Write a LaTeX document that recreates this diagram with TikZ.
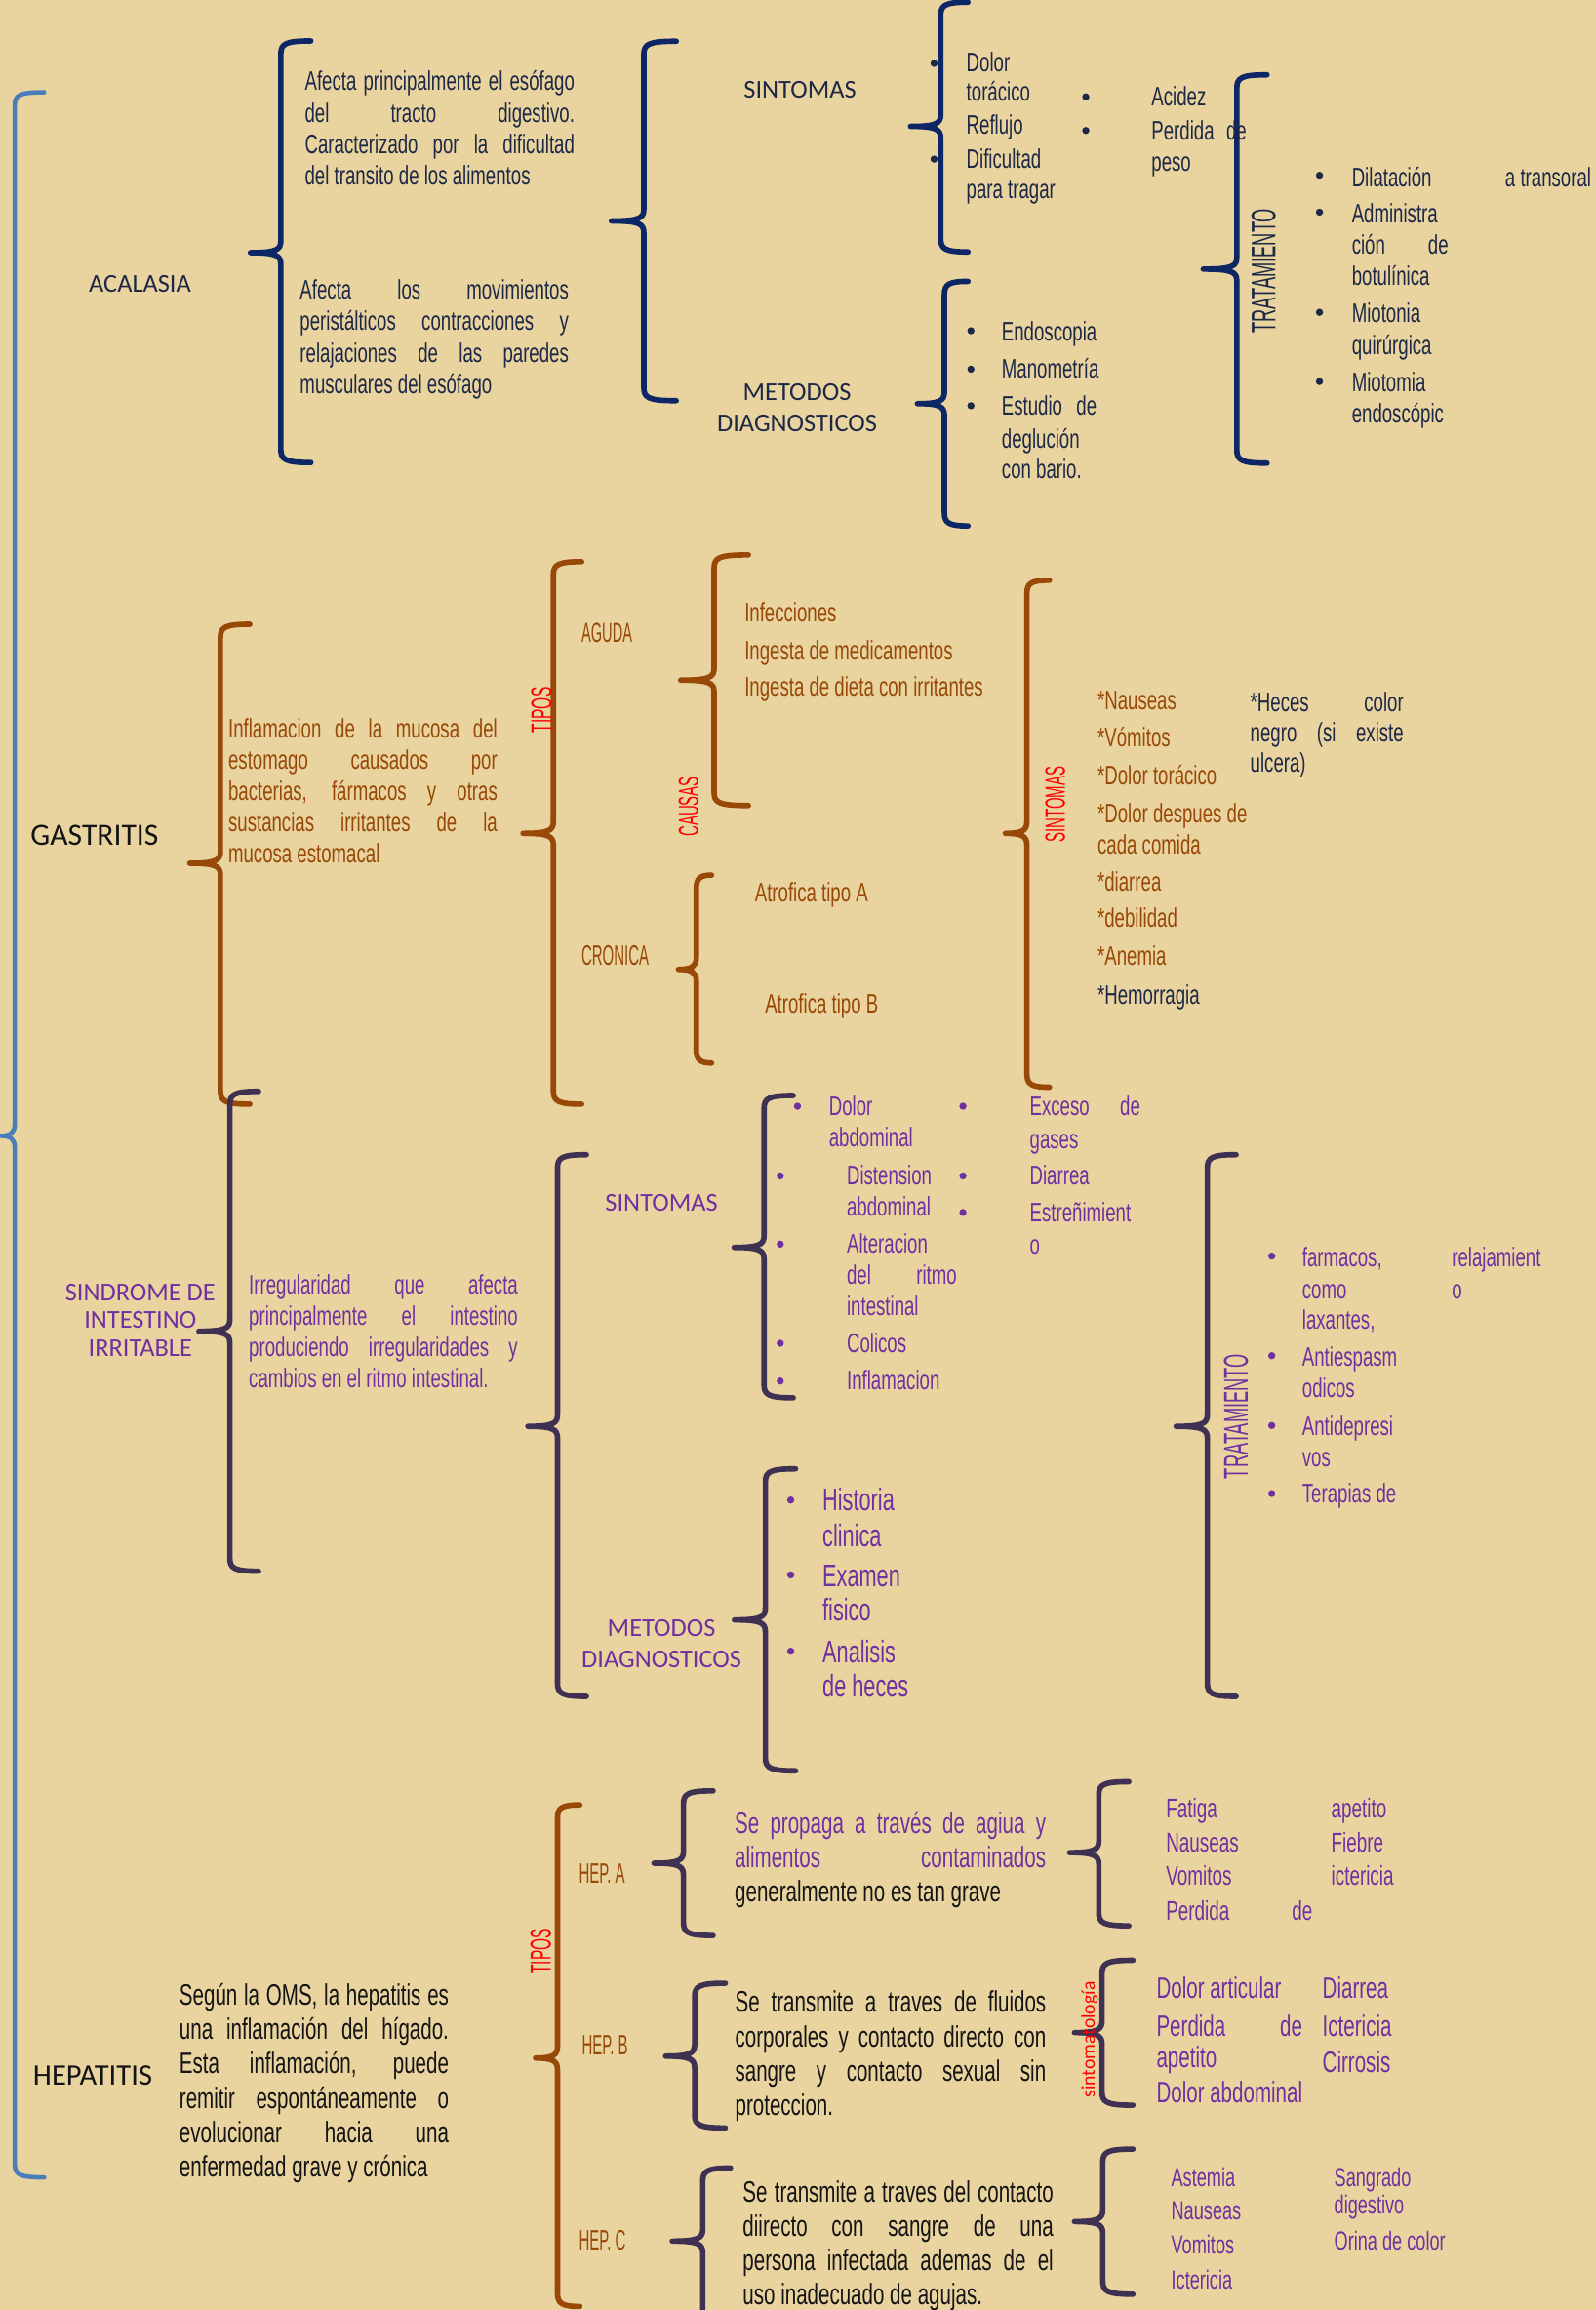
\documentclass[tikz,border=0pt]{standalone}
\usepackage{fontspec}
\setmainfont{Liberation Sans}
\newfontfamily\agf[FakeStretch=0.68]{Liberation Sans}
\newfontfamily\agcaps[FakeStretch=0.52]{Liberation Sans}
\newfontfamily\calib{Carlito}
\newdimen\unitm \unitm=0.15106mm
\newcommand\jl[1]{\hbox to\hsize{#1}}
\newcommand\lastl[1]{\hbox{#1}}
\newcommand\cl[1]{\hbox to\hsize{\hfil#1\hfil}}
\newcommand\tblock[2]{\vtop{\hsize=#1\unitm #2}}
\newcommand\jw[2]{\hbox to #1\unitm{#2}}
\definecolor{bg}{HTML}{E9D39F}
\definecolor{navyb}{HTML}{0D2665}
\definecolor{navyt}{HTML}{1C2846}
\definecolor{brn}{HTML}{984807}
\definecolor{red1}{HTML}{FF0000}
\definecolor{pur}{HTML}{7030A0}
\definecolor{dpur}{HTML}{3F3151}
\definecolor{blu}{HTML}{4A7EBB}
\definecolor{blk}{HTML}{141414}
\newcommand\bracepath[7]{\draw[brcs,#1] (#7,#3) .. controls (#2+3,#3) and (#2,#3+2) .. (#2,#3+9) -- (#2,#6-8) .. controls (#2,#6-2) and (#2-3,#6) .. (#5,#6) .. controls (#2-3,#6) and (#2,#6+2) .. (#2,#6+8) -- (#2,#4-9) .. controls (#2,#4-2) and (#2+3,#4) .. (#7,#4);}
\begin{document}
\begin{tikzpicture}[x=0.15106mm, y=-0.15106mm,
  every node/.style={inner sep=0pt, outer sep=0pt},
  tx/.style={anchor=base west, font=\agf\fontsize{7.8}{9.2}\selectfont},
  bt/.style={anchor=base west, font=\agf\fontsize{8.6}{10}\selectfont},
  ht/.style={anchor=base west, font=\agf\fontsize{9.1}{10.2}\selectfont},
  cp/.style={anchor=base west, font=\agcaps\fontsize{8.2}{9}\selectfont},
  lb/.style={anchor=base, font=\calib\fontsize{7.5}{9}\selectfont},
  vc/.style={rotate=90, anchor=center},
  brcs/.style={line width=1.6pt, line cap=round, line join=round},
  dot/.style={radius=1.05pt}]
\useasboundingbox (0,0) rectangle (1083,1568);
\fill[bg] (0,0) rectangle (1083,1568);

% ---------- braces ----------
\bracepath{blu,line width=1.3pt}{10}{62.6}{1478}{0}{771}{30}
\bracepath{navyb}{190.6}{27.8}{314}{170}{171.5}{211}
\bracepath{navyb}{437}{28}{272}{415}{150}{459}
\bracepath{navyb}{638.5}{1.5}{171}{618}{85.8}{657}
\bracepath{navyb}{641}{191}{357}{622.7}{274}{657}
\bracepath{navyb}{839.5}{50.8}{314.4}{816.7}{182.7}{860}
\bracepath{brn}{149.6}{423.8}{749.5}{128.8}{586}{169.6}
\bracepath{brn}{375.6}{381.3}{749.5}{355}{565.7}{394.8}
\bracepath{brn}{484.7}{376.7}{546.8}{462}{461.7}{508}
\bracepath{brn}{472.6}{594}{721.6}{460.5}{658}{483}
\bracepath{brn}{697}{393.9}{738}{682.4}{565.7}{712.3}
\bracepath{dpur}{156}{740.8}{1066.5}{135}{903.6}{175.5}
\bracepath{dpur}{378.4}{783.8}{1151.5}{358.3}{968.2}{398}
\bracepath{dpur}{518.6}{743.6}{948.8}{498.3}{846.7}{538.4}
\bracepath{dpur}{519.5}{997}{1202}{498.5}{1099.6}{540}
\bracepath{dpur}{819.5}{783.8}{1151.5}{798.3}{968.2}{839}
\bracepath{brn}{378.4}{1225.1}{1565.6}{363.5}{1397}{393.6}
\bracepath{dpur}{463.9}{1215.6}{1313.8}{443.9}{1264.7}{484}
\bracepath{dpur}{471.5}{1346.2}{1444.4}{451.8}{1395.7}{492.3}
\bracepath{dpur}{477}{1471.6}{1580}{456.3}{1521.2}{495.8}
\bracepath{dpur}{745.8}{1209.4}{1307.2}{726}{1257.5}{766.2}
\bracepath{dpur}{748}{1330.6}{1429}{729.3}{1379.7}{769}
\bracepath{dpur}{748.5}{1458.8}{1557.3}{729.3}{1508}{769}

% ---------- ACALASIA ----------
\node[lb, text=navyt] (acal) at (95,198) {ACALASIA};
\node[tx, text=navyt] (acd1) at (207,61.5) {\tblock{183}{\jl{Afecta principalmente el esófago}\jl{del tracto digestivo.}\jl{Caracterizado por la dificultad}\lastl{del transito de los alimentos}}};
\node[tx, text=navyt] (acd2) at (203.6,203) {\tblock{182.4}{\jl{Afecta los movimientos}\jl{peristálticos contracciones y}\jl{relajaciones de las paredes}\lastl{musculares del esófago}}};
\node[lb, text=navyt] (acsin) at (543,66.3) {SINTOMAS};
\node[lb, text=navyt] (acmet) at (541,272) {\tblock{130}{\cl{METODOS}\cl{DIAGNOSTICOS}}};
\fill[navyt] (634,43) circle[dot]; \fill[navyt] (634,108) circle[dot];
\node[tx, text=navyt] (as1) at (656,49) {Dolor};
\node[tx, text=navyt] (as2) at (656,68.6) {torácico};
\node[tx, text=navyt] (as3) at (656,91) {Reflujo};
\node[tx, text=navyt] (as4) at (656,114) {Dificultad};
\node[tx, text=navyt] (as5) at (656,135) {para tragar};
\fill[navyt] (737,65.7) circle[dot]; \fill[navyt] (737,88.6) circle[dot];
\node[tx, text=navyt] (as6) at (781.6,72) {Acidez};
\node[tx, text=navyt] (as7) at (781.6,95) {\jw{64.5}{Perdida de}};
\node[tx, text=navyt] (as8) at (781.6,116) {peso};
\node[vc, font=\agcaps\fontsize{10}{10}\selectfont, text=navyt] (actr) at (857.7,184) {TRATAMIENTO};
\foreach \yy in {119,144,212,259} {\fill[navyt] (895.6,\yy) circle[dot];}
\node[tx, text=navyt] (at1) at (917.6,126.5) {Dilatación};
\node[tx, text=navyt, anchor=base east] (at1b) at (1080,126.5) {a transoral};
\node[tx, text=navyt] (at2) at (917.6,151) {Administra};
\node[tx, text=navyt] (at3) at (917.6,172.6) {\jw{65.5}{ción de}};
\node[tx, text=navyt] (at4) at (917.6,194) {botulínica};
\node[tx, text=navyt] (at5) at (917.6,218.7) {Miotonia};
\node[tx, text=navyt] (at6) at (917.6,241) {quirúrgica};
\node[tx, text=navyt] (at7) at (917.6,266) {Miotomia};
\node[tx, text=navyt] (at8) at (917.6,287.3) {endoscópic};
\foreach \yy in {224.5,250.6,275.4} {\fill[navyt] (659,\yy) circle[dot];}
\node[tx, text=navyt] (am1) at (680,231.6) {Endoscopia};
\node[tx, text=navyt] (am2) at (680,256.6) {Manometría};
\node[tx, text=navyt] (am3) at (680,282) {\jw{64.4}{Estudio de}};
\node[tx, text=navyt] (am4) at (680,304) {deglución};
\node[tx, text=navyt] (am5) at (680,325) {con bario.};

% ---------- GASTRITIS ----------
\node[anchor=base west, font=\calib\fontsize{9}{10}\selectfont, text=blk] (gas) at (20.8,574) {GASTRITIS};
\node[tx, text=brn, font=\agf\fontsize{7.8}{9.1}\selectfont] (gd) at (155,501) {\tblock{182.6}{\jl{Inflamacion de la mucosa del}\jl{estomago causados por}\jl{bacterias, fármacos y otras}\jl{sustancias irritantes de la}\lastl{mucosa estomacal}}};
\node[vc, font=\agcaps\fontsize{8.5}{9}\selectfont, text=red1] (gtip) at (367.5,482) {TIPOS};
\node[cp, text=brn, font=\agcaps\fontsize{8}{9}\selectfont] (gag) at (394.7,436) {AGUDA};
\node[cp, text=brn, font=\agcaps\fontsize{8.2}{9}\selectfont] (gcr) at (394.7,655) {CRONICA};
\node[vc, font=\agcaps\fontsize{8.2}{9}\selectfont, text=red1] (gcau) at (467.4,547.5) {CAUSAS};
\node[tx, text=brn] (gc1) at (505.4,422) {Infecciones};
\node[tx, text=brn] (gc2) at (505.4,448) {Ingesta de medicamentos};
\node[tx, text=brn] (gc3) at (505.4,472.5) {Ingesta de dieta con irritantes};
\node[tx, text=brn] (ga1) at (512.4,612) {Atrofica tipo A};
\node[tx, text=brn] (ga2) at (519.3,687.5) {Atrofica tipo B};
\node[vc, font=\agcaps\fontsize{8.2}{9}\selectfont, text=red1] (gsin) at (716.3,546) {SINTOMAS};
\node[tx, text=brn] (gs1) at (745,482) {*Nauseas};
\node[tx, text=brn] (gs2) at (745,506.7) {*Vómitos};
\node[tx, text=brn] (gs3) at (745,532.7) {*Dolor torácico};
\node[tx, text=brn] (gs4) at (745,558.6) {*Dolor despues de};
\node[tx, text=brn] (gs5) at (745,579.4) {cada comida};
\node[tx, text=brn] (gs6) at (745,604.8) {*diarrea};
\node[tx, text=brn] (gs7) at (745,629.6) {*debilidad};
\node[tx, text=brn] (gs8) at (745,655.5) {*Anemia};
\node[tx, text=navyt] (gs9) at (745,681.5) {*Hemorragia};
\node[tx, text=navyt, font=\agf\fontsize{7.8}{8.9}\selectfont] (gs10) at (848.7,483) {\tblock{104}{\jl{*Heces color}\jl{negro (si existe}\lastl{ulcera)}}};

% ---------- SINDROME DE INTESTINO IRRITABLE ----------
\node[lb, text=pur, font=\calib\fontsize{7.5}{8.06}\selectfont] (ibs) at (95.2,883) {\tblock{130}{\cl{SINDROME DE}\cl{INTESTINO}\cl{IRRITABLE}}};
\node[tx, text=pur, font=\agf\fontsize{7.8}{9.1}\selectfont] (ibd) at (169,878.5) {\tblock{182.5}{\jl{Irregularidad que afecta}\jl{principalmente el intestino}\jl{produciendo irregularidades y}\lastl{cambios en el ritmo intestinal.}}};
\node[lb, text=pur] (ibsin) at (449,822) {SINTOMAS};
\node[lb, text=pur] (ibmet) at (449,1111) {\tblock{130}{\cl{METODOS}\cl{DIAGNOSTICOS}}};
\fill[pur] (541.3,750.9) circle[dot];
\foreach \yy in {798.2,844.5,911.8,937.4} {\fill[pur] (529.6,\yy) circle[dot];}
\node[tx, text=pur] (is1) at (562.7,757.4) {Dolor};
\node[tx, text=pur] (is2) at (562.7,778.3) {abdominal};
\node[tx, text=pur] (is3) at (574.8,804.4) {Distension};
\node[tx, text=pur] (is4) at (574.8,825.1) {abdominal};
\node[tx, text=pur] (is5) at (574.8,850.5) {Alteracion};
\node[tx, text=pur] (is6) at (574.8,872) {\jw{74.6}{del ritmo}};
\node[tx, text=pur] (is7) at (574.8,892.6) {intestinal};
\node[tx, text=pur] (is8) at (574.8,917.8) {Colicos};
\node[tx, text=pur] (is9) at (574.8,943.4) {Inflamacion};
\foreach \yy in {750.9,798.2,823} {\fill[pur] (653.6,\yy) circle[dot];}
\node[tx, text=pur] (is10) at (699,757.4) {\jw{75}{Exceso de}};
\node[tx, text=pur] (is11) at (699,779.4) {gases};
\node[tx, text=pur] (is12) at (699,804.4) {Diarrea};
\node[tx, text=pur] (is13) at (699,829.5) {Estreñimient};
\node[tx, text=pur] (is14) at (699,851.2) {o};
\foreach \yy in {1018.2,1069,1120.8} {\fill[pur] (536.7,\yy) circle[dot];}
\node[ht, text=pur] (im1) at (558.3,1025.5) {Historia};
\node[ht, text=pur] (im2) at (558.3,1049.7) {clinica};
\node[ht, text=pur] (im3) at (558.3,1077) {Examen};
\node[ht, text=pur] (im4) at (558.3,1100) {fisico};
\node[ht, text=pur] (im5) at (558.3,1128.7) {Analisis};
\node[ht, text=pur] (im6) at (558.3,1151.6) {de heces};
\node[vc, font=\agcaps\fontsize{10}{10}\selectfont, text=pur] (ibtr) at (839,961.5) {TRATAMIENTO};
\foreach \yy in {852.6,920.2,967.6,1013.8} {\fill[pur] (863.2,\yy) circle[dot];}
\node[tx, text=pur] (it1) at (883.9,859.7) {farmacos,};
\node[tx, text=pur] (it2) at (883.9,881.5) {como};
\node[tx, text=pur] (it3) at (883.9,902.2) {laxantes,};
\node[tx, text=pur] (it4) at (985.5,859.7) {relajamient};
\node[tx, text=pur] (it5) at (985.5,881.5) {o};
\node[tx, text=pur] (it6) at (883.9,927.2) {Antiespasm};
\node[tx, text=pur] (it7) at (883.9,948.4) {odicos};
\node[tx, text=pur] (it8) at (883.9,974.2) {Antidepresi};
\node[tx, text=pur] (it9) at (883.9,995.5) {vos};
\node[tx, text=pur] (it10) at (883.9,1019.8) {Terapias de};

% ---------- HEPATITIS ----------
\node[anchor=base west, font=\calib\fontsize{8.7}{10}\selectfont, text=blk] (hep) at (22.5,1415.5) {HEPATITIS};
\node[bt, text=blk, font=\agf\fontsize{8.6}{10.03}\selectfont] (hd) at (121.8,1361) {\tblock{182.8}{\jl{Según la OMS, la hepatitis es}\jl{una inflamación del hígado.}\jl{Esta inflamación, puede}\jl{remitir espontáneamente o}\jl{evolucionar hacia una}\lastl{enfermedad grave y crónica}}};
\node[vc, font=\agcaps\fontsize{8.5}{9}\selectfont, text=red1] (htip) at (367,1324.6) {TIPOS};
\node[cp, text=brn] (hA) at (393,1278) {HEP. A};
\node[cp, text=brn] (hB) at (395,1394.5) {HEP. B};
\node[cp, text=brn] (hC) at (393,1527.5) {HEP. C};
\node[bt, text=blk, font=\agf\fontsize{8.6}{10}\selectfont] (hAt) at (498.7,1244.6) {\tblock{211.2}{\jl{\color{pur}Se propaga a través de agiua y}\jl{\color{pur}alimentos contaminados}\lastl{generalmente no es tan grave}}};
\node[bt, text=blk, font=\agf\fontsize{8.6}{10}\selectfont] (hBt) at (499,1366) {\tblock{211}{\jl{Se transmite a traves de fluidos}\jl{corporales y contacto directo con}\jl{sangre y contacto sexual sin}\lastl{proteccion.}}};
\node[bt, text=blk, font=\agf\fontsize{8.6}{10}\selectfont] (hCt) at (504.2,1494.5) {\tblock{210.8}{\jl{Se transmite a traves del contacto}\jl{diirecto con sangre de una}\jl{persona infectada ademas de el}\lastl{uso inadecuado de agujas.}}};
\node[anchor=base west, font=\agf\fontsize{7.9}{9}\selectfont, text=pur] (ha1) at (791.5,1234) {Fatiga};
\node[anchor=base west, font=\agf\fontsize{7.9}{9}\selectfont, text=pur] (ha2) at (791.5,1256.8) {Nauseas};
\node[anchor=base west, font=\agf\fontsize{7.9}{9}\selectfont, text=pur] (ha3) at (791.5,1279.5) {Vomitos};
\node[anchor=base west, font=\agf\fontsize{7.9}{9}\selectfont, text=pur] (ha4) at (791.5,1303.5) {\jw{99.3}{Perdida de}};
\node[anchor=base west, font=\agf\fontsize{7.9}{9}\selectfont, text=pur] (ha5) at (903.6,1234) {apetito};
\node[anchor=base west, font=\agf\fontsize{7.9}{9}\selectfont, text=pur] (ha6) at (903.6,1256.8) {Fiebre};
\node[anchor=base west, font=\agf\fontsize{7.9}{9}\selectfont, text=pur] (ha7) at (903.6,1279.5) {ictericia};
\node[vc, font=\calib\fontsize{5.6}{6}\selectfont, text=red1] (hsym) at (739.6,1384.5) {sintomatología};
\node[bt, text=pur] (hb1) at (785,1356.3) {Dolor articular};
\node[bt, text=pur] (hb2) at (785,1382) {\jw{99}{Perdida de}};
\node[bt, text=pur] (hb3) at (785,1403.5) {apetito};
\node[bt, text=pur] (hb4) at (785,1427.4) {Dolor abdominal};
\node[bt, text=pur] (hb5) at (897.7,1356.3) {Diarrea};
\node[bt, text=pur] (hb6) at (897.7,1382) {Ictericia};
\node[bt, text=pur] (hb7) at (897.7,1407) {Cirrosis};
\node[anchor=base west, font=\agf\fontsize{7.6}{9}\selectfont, text=pur] (hc1) at (795,1484) {Astemia};
\node[anchor=base west, font=\agf\fontsize{7.6}{9}\selectfont, text=pur] (hc2) at (795,1506.8) {Nauseas};
\node[anchor=base west, font=\agf\fontsize{7.6}{9}\selectfont, text=pur] (hc3) at (795,1530.2) {Vomitos};
\node[anchor=base west, font=\agf\fontsize{7.6}{9}\selectfont, text=pur] (hc4) at (795,1553.6) {Ictericia};
\node[anchor=base west, font=\agf\fontsize{7.6}{9}\selectfont, text=pur] (hc5) at (905.6,1484) {Sangrado};
\node[anchor=base west, font=\agf\fontsize{7.6}{9}\selectfont, text=pur] (hc6) at (905.6,1503) {digestivo};
\node[anchor=base west, font=\agf\fontsize{7.6}{9}\selectfont, text=pur] (hc7) at (905.6,1527) {Orina de color};
\end{tikzpicture}
\end{document}
